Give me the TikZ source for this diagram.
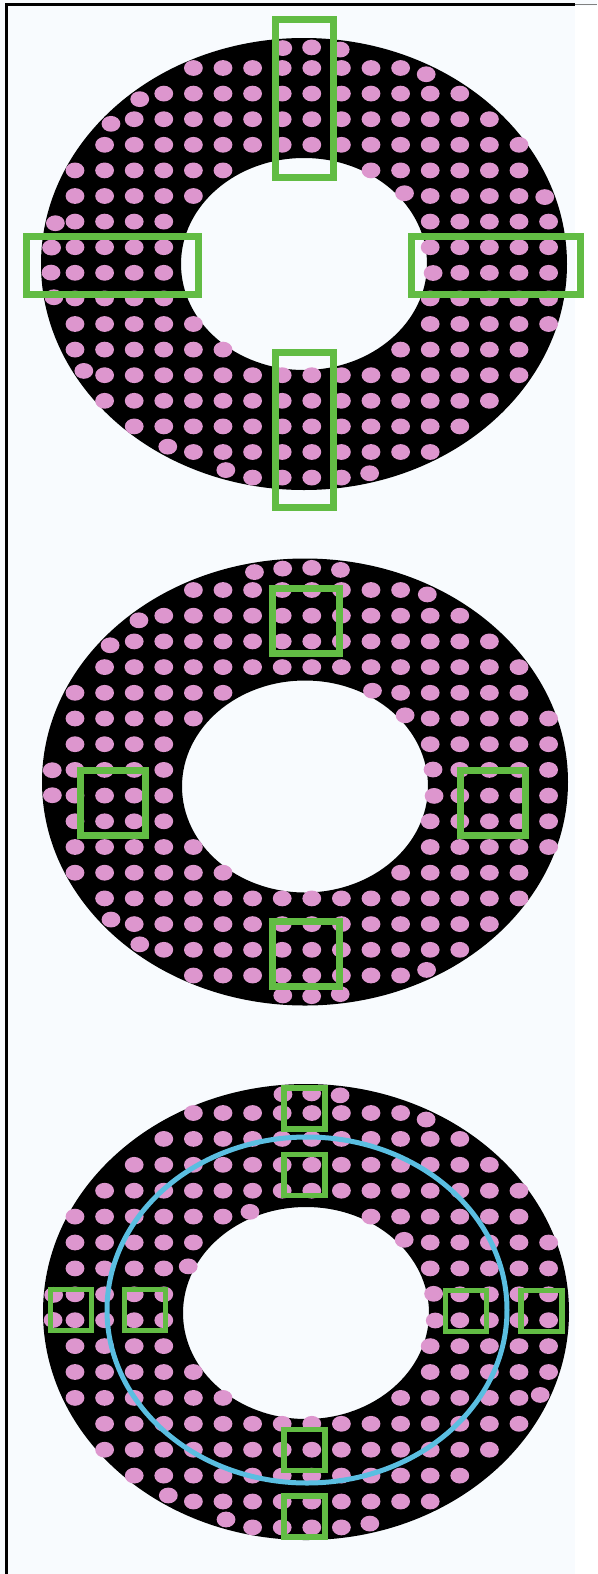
\documentclass[tikz,border=0pt]{standalone}
\definecolor{bgc}{RGB}{248,251,254}
\definecolor{dotc}{RGB}{221,150,206}
\definecolor{boxc}{RGB}{98,188,68}
\definecolor{ringc}{RGB}{90,190,225}
\tikzset{
  greenbox/.style={draw=boxc,line width=6.5},
  smallbox/.style={draw=boxc,line width=5.5},
  pinkdot/.style={fill=dotc},
}
\newcommand\pdot[2]{\fill[pinkdot] (#1,#2) ellipse[x radius=9.4,y radius=7.9];}
% #1 cx, #2 cy, #3 Rx, #4 Ry, #5 rx, #6 ry, #7 y0, #8 dy, #9 inner cy
\newcommand\dotring[9]{%
  \fill[black,even odd rule] (#1,#2) ellipse[x radius=#3,y radius=#4] (#1,#9) ellipse[x radius=#5,y radius=#6];
  \foreach \i in {-1,...,17}{%
    \foreach \j in {-2,...,18}{%
      \pgfmathsetmacro\px{75+29.6*\i}%
      \pgfmathsetmacro\py{#7+#8*\j}%
      \pgfmathsetmacro\qa{((\px-#1)/(#3-6))^2+((\py-#2)/(#4-6))^2}%
      \pgfmathsetmacro\qb{((\px-#1)/(#5+4))^2+((\py-#9)/(#6+4))^2}%
      \ifdim\qa pt<1pt\relax
        \ifdim\qb pt>1pt\relax
          \pdot{\px}{\py}
        \else
          \ifdim\qb pt>0.94pt\relax
            \pgfmathsetmacro\sc{1.02/sqrt(\qb)}%
            \pgfmathsetmacro\qx{#1+(\px-#1)*\sc}%
            \pgfmathsetmacro\qy{#9+(\py-#9)*\sc}%
            \pdot{\qx}{\qy}
          \fi
        \fi
      \else
        \ifdim\qa pt<1.05pt\relax
          \ifdim\qb pt>1pt\relax
            \pgfmathsetmacro\sc{0.985/sqrt(\qa)}%
            \pgfmathsetmacro\qx{#1+(\px-#1)*\sc}%
            \pgfmathsetmacro\qy{#2+(\py-#2)*\sc}%
            \pdot{\qx}{\qy}
          \fi
        \fi
      \fi
    }%
  }%
}
\begin{document}
\begin{tikzpicture}[x=1pt,y=-1pt]
\useasboundingbox (0,0) rectangle (597,1574);
\fill[bgc] (0,0) rectangle (597,1574);
\fill[white] (575,6) rectangle (597,1574);
% frame
\draw[black,line width=3] (6,1574) -- (6,4.5) -- (575,4.5);
\draw[gray,line width=1.5] (575,4.5) -- (597,4.5);

% ring 1
\dotring{304}{264}{263}{226}{123}{106}{68}{25.6}{264}
\draw[greenbox] (275.5,19.5) rectangle (333.5,177.5);
\draw[greenbox] (275.5,352.5) rectangle (333.5,507.5);
\draw[greenbox] (26.5,236.5) rectangle (198.5,294.5);
\draw[greenbox] (411.5,236.5) rectangle (580.5,294.5);

% ring 2
\dotring{305}{782}{263}{223.5}{123}{106}{590}{25.7}{786.5}
\draw[greenbox] (272.5,588.5) rectangle (339.5,653.5);
\draw[greenbox] (272.5,921.5) rectangle (339.5,986.5);
\draw[greenbox] (80.5,770.5) rectangle (145.5,835.5);
\draw[greenbox] (460.5,770.5) rectangle (525.5,835.5);

% ring 3
\dotring{306}{1312}{263}{228}{123}{106}{1113}{25.9}{1313}
\draw[ringc,line width=5] (307,1310) ellipse[x radius=200,y radius=173];
\foreach \cx/\cy in {304.5/1108.5, 304.5/1175, 71/1310, 145/1310, 466/1311, 541.5/1311, 304.5/1450, 304.5/1516.5}{
  \draw[smallbox] (\cx-20.5,\cy-20.5) rectangle (\cx+20.5,\cy+20.5);
}
\end{tikzpicture}
\end{document}
